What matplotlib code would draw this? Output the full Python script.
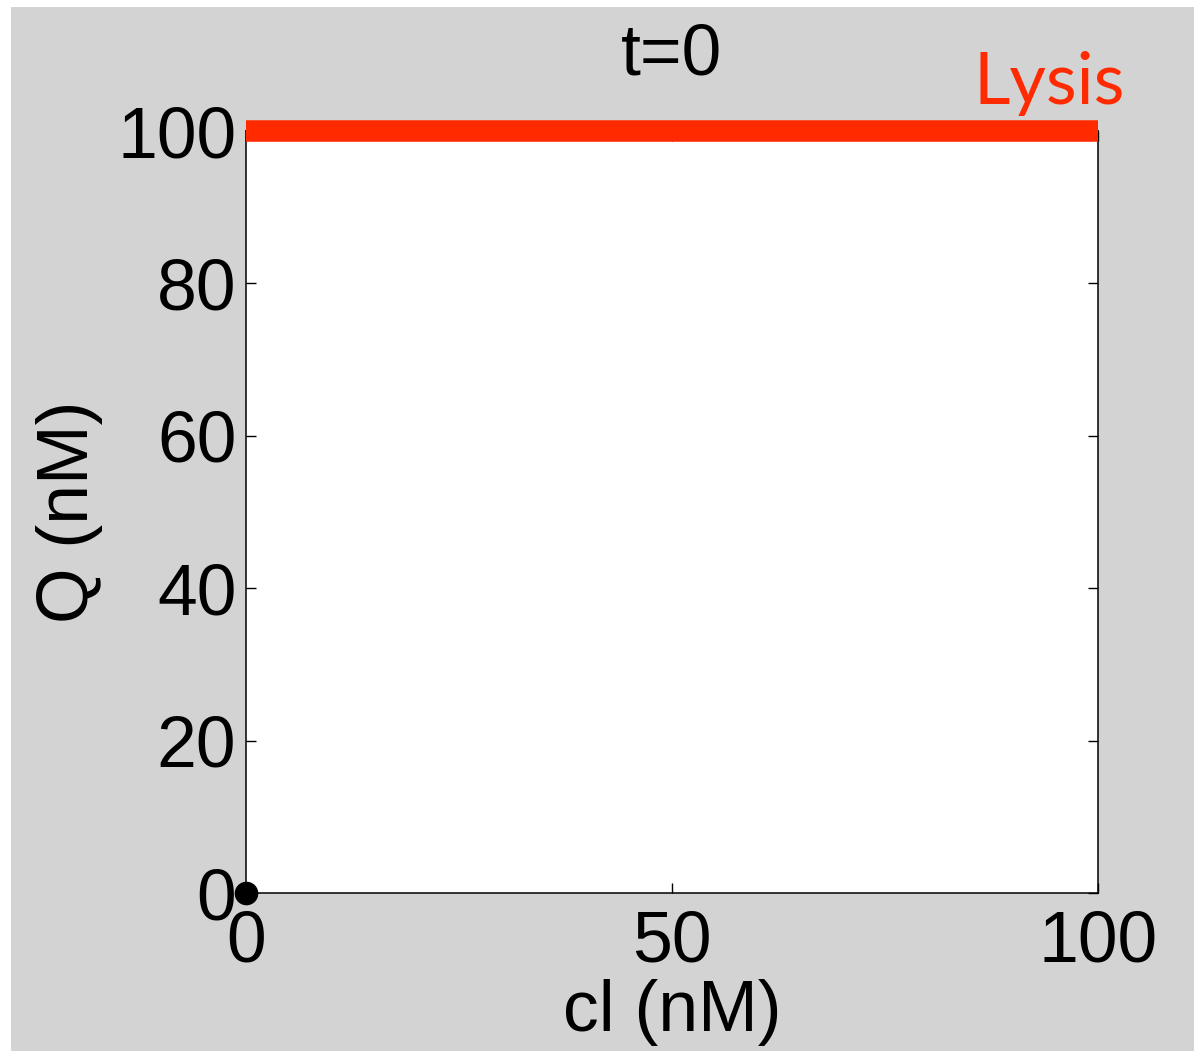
import matplotlib
matplotlib.use("Agg")
import matplotlib.pyplot as plt
from matplotlib.patches import Rectangle

# Data
lysis_x = [0, 100]
lysis_y = [100, 100]
point_x = [0]
point_y = [0]
x_ticks = [0, 50, 100]
y_ticks = [0, 20, 40, 60, 80, 100]
title_text = "t=0"
xlabel_text = "cl (nM)"
ylabel_text = "Q (nM)"
lysis_label = "Lysis"

W, H = 1194, 1051
fig = plt.figure(figsize=(W / 100, H / 100), dpi=100, facecolor="white")
# gray panel background (white slivers at top and left)
fig.patches.append(Rectangle((11 / W, 0), 1 - 11 / W, (H - 7) / H,
                             transform=fig.transFigure, facecolor="#d3d3d3",
                             edgecolor="none", zorder=-10))

ax = fig.add_axes([246 / W, 158 / H, 852 / W, 762 / H])
ax.set_facecolor("white")
ax.set_xlim(0, 100)
ax.set_ylim(0, 100)

ax.plot(lysis_x, lysis_y, color="#ff2a00", linewidth=15.5, solid_capstyle="butt",
        clip_on=False, zorder=5)
ax.plot(point_x, point_y, "o", color="black", markersize=16, clip_on=False, zorder=6)

font = "Liberation Sans"
fs = 51.5
ax.set_xticks(x_ticks)
ax.set_yticks(y_ticks)
ax.set_xticklabels([str(v) for v in x_ticks], fontsize=fs, family=font)
ax.set_yticklabels([str(v) for v in y_ticks], fontsize=fs, family=font)
ax.tick_params(direction="in", length=7, width=1.0, top=True, right=True,
               color="black")
ax.tick_params(axis="x", pad=12)
ax.tick_params(axis="y", pad=7)
for s in ax.spines.values():
    s.set_linewidth(1.1)
    s.set_color("black")

ax.set_title(title_text, fontsize=fs, family=font, pad=41)
ax.set_xlabel(xlabel_text, fontsize=fs, family=font)
ax.xaxis.set_label_coords(0.5, -0.113)
ax.set_ylabel(ylabel_text, fontsize=fs, family=font)
ax.yaxis.set_label_coords(-0.168, 0.5)

ax.text(85.4, 103.6, lysis_label, color="#ff2a00", fontsize=51, family="Lato",
        ha="left", va="baseline", clip_on=False, zorder=7)

fig.savefig("out.png", dpi=100, facecolor=fig.get_facecolor())
